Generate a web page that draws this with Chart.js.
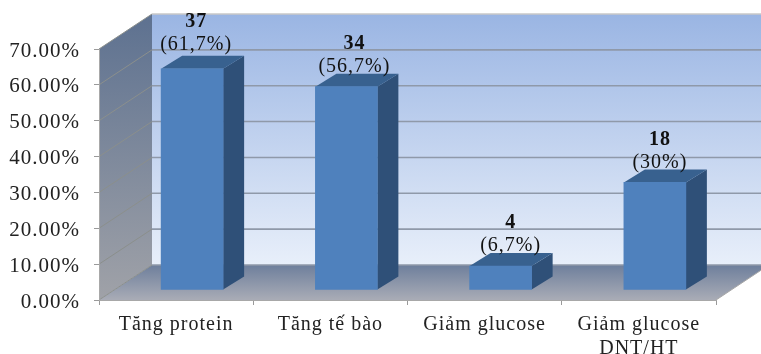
<!DOCTYPE html>
<html>
<head>
<meta charset="utf-8">
<style>
  body { margin: 0; background: #fff; }
  /* the source picture is a soft upscaled screenshot */
  #chart { display: block; filter: blur(0.5px); }
</style>
</head>
<body>
<canvas id="chart" width="761" height="354"></canvas>
<script src="https://cdn.jsdelivr.net/npm/chart.js@4"></script>
<script>
const categories = ['Tăng protein', 'Tăng tế bào', 'Giảm glucose', ['Giảm glucose', 'DNT/HT']];
const percentValues = [61.7, 56.7, 6.7, 30];
const patientCounts = [37, 34, 4, 18];
const percentTicks = [0, 10, 20, 30, 40, 50, 60, 70];

// depth of the fake 3D box and of the bars inside it
const wallDx = 53, wallDy = -35;
const barDx = 16, barDy = -10;
const sideDx = 21, sideDy = -13;

// the value labels were placed by hand in the reference, so they are not all centred the same
const labelShiftX = [4, 8, 10, 5];
const labelShiftY = [-3, 1, 1, 1];

const textColor = '#222';
const serif = 'Liberation Serif, Times New Roman, serif';

function poly(ctx, pts, fill) {
    ctx.beginPath();
    pts.forEach((p, i) => i ? ctx.lineTo(p[0], p[1]) : ctx.moveTo(p[0], p[1]));
    ctx.closePath();
    ctx.fillStyle = fill;
    ctx.fill();
}

function vGrad(ctx, y0, y1, c0, c1) {
    const g = ctx.createLinearGradient(0, y0, 0, y1);
    g.addColorStop(0, c0);
    g.addColorStop(1, c1);
    return g;
}

// back wall, left wall, floor and grid lines
const boxPlugin = {
    id: 'box',
    beforeDraw(chart) {
        const ctx = chart.ctx, a = chart.chartArea, y = chart.scales.y;
        const l = a.left, r = a.right, t = a.top, b = a.bottom;
        // text in the reference is a bit wider than the font
        ctx.letterSpacing = '1px';
        ctx.save();
        poly(ctx, [[l + wallDx, t + wallDy], [r + wallDx, t + wallDy], [r + wallDx, b + wallDy], [l + wallDx, b + wallDy]],
            vGrad(ctx, t + wallDy, b + wallDy, '#9ab5e3', '#e8effa'));
        poly(ctx, [[l, t], [l + wallDx, t + wallDy], [l + wallDx, b + wallDy], [l, b]],
            vGrad(ctx, t + wallDy, b, '#5d7190', '#a0a2a8'));
        poly(ctx, [[l, b], [r, b], [r + wallDx, b + wallDy], [l + wallDx, b + wallDy]],
            vGrad(ctx, b + wallDy, b, '#6e7f9c', '#a9acb6'));

        percentTicks.forEach(v => {
            const py = y.getPixelForValue(v);
            ctx.strokeStyle = '#8b8f8c';
            ctx.lineWidth = 1;
            ctx.beginPath();
            ctx.moveTo(l, py);
            ctx.lineTo(l + wallDx, py + wallDy);
            ctx.stroke();
            ctx.strokeStyle = v === 70 ? '#c9c9c9' : '#8f99a9';
            ctx.lineWidth = 1.6;
            ctx.beginPath();
            ctx.moveTo(l + wallDx, py + wallDy);
            ctx.lineTo(r + wallDx, py + wallDy);
            ctx.stroke();
        });
        ctx.strokeStyle = '#a8a8a8';
        ctx.lineWidth = 1;
        ctx.beginPath();
        ctx.moveTo(r, b);
        ctx.lineTo(r + wallDx, b + wallDy);
        ctx.stroke();
        ctx.restore();
    },
    beforeDatasetsDraw(chart) {
        const ctx = chart.ctx;
        ctx.save();
        ctx.translate(barDx, barDy);
        chart.getDatasetMeta(0).data.forEach(bar => {
            const x0 = bar.x - bar.width / 2, x1 = bar.x + bar.width / 2;
            poly(ctx, [[x1, bar.y], [x1 + sideDx, bar.y + sideDy], [x1 + sideDx, bar.base + sideDy], [x1, bar.base]], '#2f5078');
            poly(ctx, [[x0, bar.y], [x0 + sideDx, bar.y + sideDy], [x1 + sideDx, bar.y + sideDy], [x1, bar.y]], '#38618f');
        });
    },
    afterDatasetsDraw(chart) {
        const ctx = chart.ctx;
        ctx.restore();
        // two line value labels above each bar
        ctx.save();
        ctx.textAlign = 'center';
        ctx.textBaseline = 'middle';
        ctx.fillStyle = '#111';
        chart.getDatasetMeta(0).data.forEach((bar, i) => {
            const cx = bar.x + barDx + labelShiftX[i];
            const top = bar.y + barDy + sideDy + labelShiftY[i];
            ctx.font = 'bold 20px ' + serif;
            ctx.fillText(patientCounts[i], cx, top - 31);
            ctx.font = '20px ' + serif;
            ctx.fillText('(' + String(percentValues[i]).replace('.', ',') + '%)', cx, top - 8);
        });
        ctx.restore();
    }
};

new Chart(document.getElementById('chart'), {
    type: 'bar',
    data: {
        labels: categories,
        datasets: [{
            data: percentValues,
            backgroundColor: '#4f81bd',
            barThickness: 62,
            clip: false
        }]
    },
    options: {
        responsive: false,
        animation: false,
        events: [],
        layout: { padding: { top: 49, right: 45, bottom: 0, left: 0 } },
        plugins: { legend: { display: false }, title: { display: false }, tooltip: { enabled: false } },
        scales: {
            x: {
                afterFit(s) { s.height = 54; },
                grid: { drawOnChartArea: false, color: '#9a9a9a', tickLength: 5 },
                border: { color: '#a8a8a8' },
                ticks: {
                    color: textColor,
                    padding: 8,
                    maxRotation: 0,
                    font: { family: serif, size: 20, lineHeight: 1.2 }
                }
            },
            y: {
                min: 0,
                max: 70,
                afterFit(s) { s.width = 99; },
                afterBuildTicks(s) { s.ticks = percentTicks.map(v => ({ value: v })); },
                // labels sit 2px under their ticks in the reference
                afterUpdate(s) {
                    if (s.drawLabels.patched) return;
                    const drawLabels = s.drawLabels;
                    s.drawLabels = function (area) {
                        s.ctx.save();
                        s.ctx.translate(0, 2);
                        drawLabels.call(s, area);
                        s.ctx.restore();
                    };
                    s.drawLabels.patched = true;
                },
                grid: { drawOnChartArea: false, color: '#9a9a9a', tickLength: 5 },
                border: { color: '#a8a8a8' },
                ticks: {
                    color: textColor,
                    padding: 14,
                    font: { family: serif, size: 21 },
                    callback: v => v.toFixed(2) + '%'
                }
            }
        }
    },
    plugins: [boxPlugin]
});
</script>
</body>
</html>
